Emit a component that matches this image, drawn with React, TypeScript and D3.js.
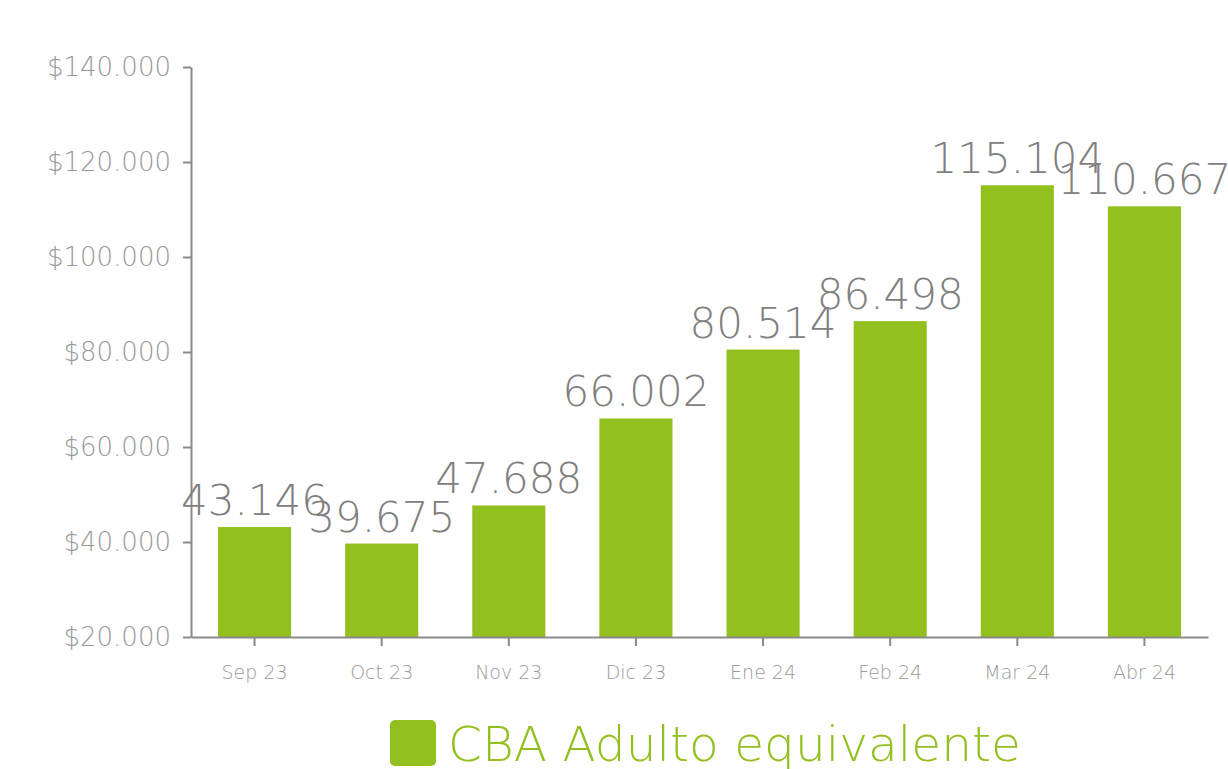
import React, { useEffect, useRef } from 'react';
import * as d3 from 'd3';

const months = ['Sep 23', 'Oct 23', 'Nov 23', 'Dic 23', 'Ene 24', 'Feb 24', 'Mar 24', 'Abr 24'];
const cbaValues = [43146, 39675, 47688, 66002, 80514, 86498, 115104, 110667];
const yTicks = [20000, 40000, 60000, 80000, 100000, 120000, 140000];
const seriesName = 'CBA Adulto equivalente';

const width = 1228;
const height = 769;
const margin = { top: 67, right: 20, bottom: 132, left: 191 };
const green = '#92c01f';
const font = '"DejaVu Sans", sans-serif';

const locale = d3.formatLocale({ decimal: ',', thousands: '.', grouping: [3], currency: ['$', ''] });
const fmtMoney = locale.format('$,');
const fmtNum = locale.format(',');

const App: React.FC = () => {
  const svgRef = useRef<SVGSVGElement>(null);

  useEffect(() => {
    document.body.style.margin = '0';
    if (!svgRef.current) return;
    const svg = d3.select(svgRef.current);
    svg.selectAll('*').remove();

    const x = d3.scaleBand<string>()
      .domain(months)
      .range([margin.left, width - margin.right])
      .paddingInner(0.425)
      .paddingOuter(0.2125);

    const y = d3.scaleLinear()
      .domain([20000, 140000])
      .range([height - margin.bottom, margin.top]);

    // bars
    svg.append('g')
      .selectAll('rect')
      .data(cbaValues)
      .enter().append('rect')
      .attr('x', (_, i) => x(months[i])!)
      .attr('y', d => y(d))
      .attr('width', x.bandwidth())
      .attr('height', d => y(20000) - y(d))
      .attr('fill', green);

    // y axis
    const yAxis = svg.append('g')
      .attr('transform', `translate(${margin.left},0)`)
      .call(d3.axisLeft(y).tickValues(yTicks).tickFormat(d => fmtMoney(d as number)).tickSize(8).tickSizeOuter(0));
    yAxis.select('.domain').attr('stroke', '#8a8a8a').attr('stroke-width', 2);
    yAxis.selectAll('.tick line').attr('stroke', '#8a8a8a').attr('stroke-width', 2);
    yAxis.selectAll('.tick text')
      .attr('x', -20)
      .attr('fill', '#999999')
      .style('font-family', font)
      .style('font-weight', '300')
      .style('font-size', '26px');

    // x axis
    const xAxis = svg.append('g')
      .attr('transform', `translate(0,${y(20000)})`)
      .call(d3.axisBottom(x).tickSize(9).tickSizeOuter(0));
    xAxis.select('.domain').attr('stroke', '#8a8a8a').attr('stroke-width', 2);
    xAxis.selectAll('.tick line').attr('stroke', '#8a8a8a').attr('stroke-width', 2);
    xAxis.selectAll('.tick text')
      .attr('y', 29)
      .attr('fill', '#999999')
      .style('font-family', font)
      .style('font-weight', '300')
      .style('font-size', '19px');

    // value labels
    svg.append('g')
      .selectAll('text')
      .data(cbaValues)
      .enter().append('text')
      .attr('x', (_, i) => x(months[i])! + x.bandwidth() / 2)
      .attr('y', d => y(d) - 12)
      .attr('text-anchor', 'middle')
      .attr('fill', '#808080')
      .style('font-family', font)
      .style('font-weight', '300')
      .style('font-size', '42px')
      .text(d => fmtNum(d));

    // legend
    const legend = svg.append('g').attr('transform', 'translate(390,720)');
    legend.append('rect')
      .attr('width', 46)
      .attr('height', 46)
      .attr('rx', 5)
      .attr('fill', green);
    legend.append('text')
      .attr('x', 58)
      .attr('y', 41)
      .attr('fill', green)
      .style('font-family', font)
      .style('font-weight', '300')
      .style('font-size', '48.6px')
      .text(seriesName);
  }, []);

  return <svg ref={svgRef} width={width} height={height} style={{ display: 'block', background: '#fff' }} />;
};

export default App;
